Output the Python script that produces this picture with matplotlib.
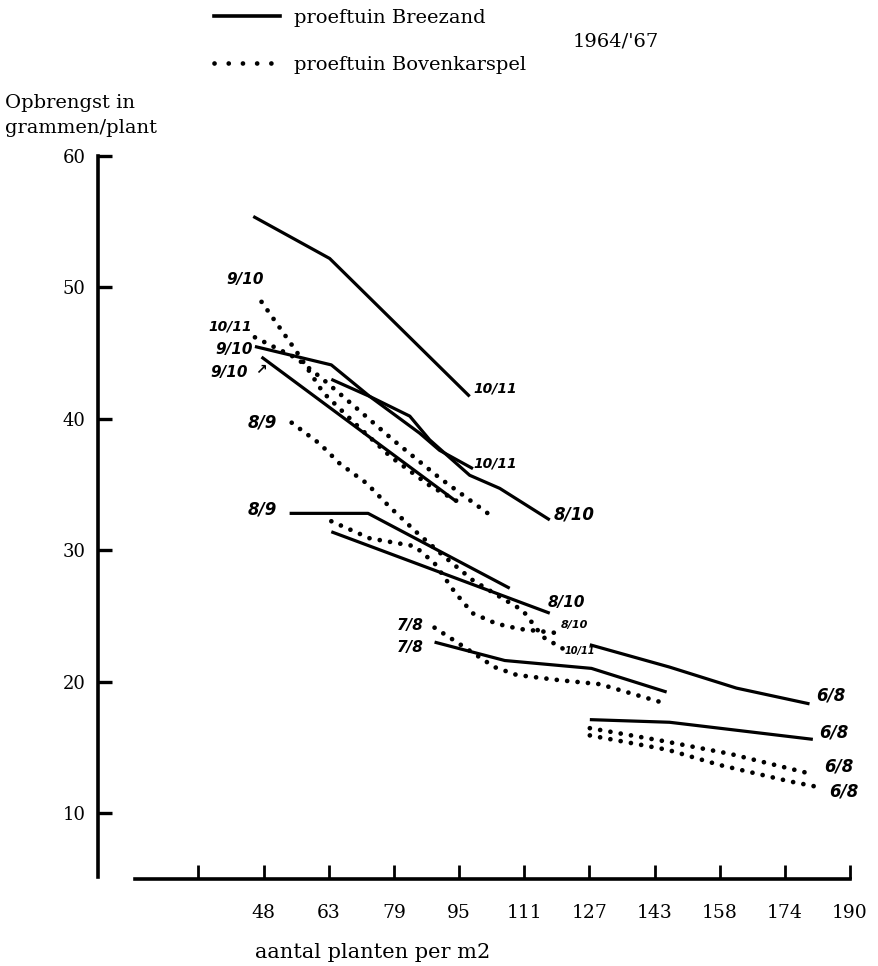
import matplotlib
matplotlib.use("Agg")
import matplotlib.pyplot as plt
from matplotlib.lines import Line2D
import numpy as np

# ---------------- data ----------------
tick_labels = ["", "48", "63", "79", "95", "111", "127", "143", "158", "174", "190"]
tick_pos = np.linspace(32.22, 190, 11)
y_ticks = [10, 20, 30, 40, 50, 60]

# proeftuin Breezand (solid)
b1_x = [45.5, 64.0, 97.9];                         b1_y = [55.4, 52.2, 41.7]
b2_x = [45.9, 64.4, 73.7, 85.8, 90.6, 98.7];       b2_y = [45.5, 44.1, 41.7, 38.9, 37.6, 36.2]
b3_x = [64.4, 73.7, 83.4, 88.2, 97.9, 105.2, 117.3]; b3_y = [43.0, 41.7, 40.2, 38.4, 35.7, 34.7, 32.3]
b4_x = [47.5, 94.7];                               b4_y = [44.7, 33.7]
b5_x = [54.3, 73.3, 107.6];                        b5_y = [32.8, 32.8, 27.1]
b6_x = [64.4, 117.3];                              b6_y = [31.4, 25.2]
b7_x = [89.4, 106.4, 127.4, 145.6];                b7_y = [23.0, 21.6, 21.0, 19.2]
b8_x = [127.0, 146.3, 162.5, 180.2];               b8_y = [22.8, 21.1, 19.5, 18.3]
b9_x = [127.0, 146.3, 181.0];                      b9_y = [17.1, 16.9, 15.6]

# proeftuin Bovenkarspel (dotted)
k1_x = [47.5, 56.0, 62.4, 70.6, 78.8, 88.3, 95.0];   k1_y = [48.9, 45.1, 42.0, 39.5, 37.1, 34.9, 33.7]
k2_x = [45.9, 56.0, 62.4, 70.9, 79.3, 90.6, 102.3];  k2_y = [46.2, 44.6, 43.0, 40.7, 38.4, 35.5, 32.8]
k3_x = [54.8, 61.6, 66.4, 72.9, 78.5, 84.9, 91.8, 98.7, 106.0, 110.8, 115.6, 120.5]
k3_y = [39.7, 38.1, 36.6, 35.1, 33.3, 31.4, 29.5, 27.7, 26.3, 25.4, 23.4, 22.5]
k4_x = [64.4, 73.7, 84.6, 89.4, 94.3, 98.6, 104.4, 110.0, 118.8]
k4_y = [32.2, 30.9, 30.3, 29.0, 26.8, 25.2, 24.4, 24.0, 23.7]
k5_x = [89.4, 96.7, 103.9, 109.3, 119.7, 129.4, 145.6]; k5_y = [24.1, 22.6, 21.1, 20.5, 20.1, 19.8, 18.3]
k6_x = [127.0, 144.3, 160.9, 180.2];               k6_y = [16.45, 15.5, 14.5, 13.0]
k7_x = [127.0, 145.9, 158.4, 175.4, 183.4];        k7_y = [15.9, 14.8, 13.65, 12.4, 11.9]

solid_series = [(b1_x, b1_y), (b2_x, b2_y), (b3_x, b3_y), (b4_x, b4_y), (b5_x, b5_y),
                (b6_x, b6_y), (b7_x, b7_y), (b8_x, b8_y), (b9_x, b9_y)]
dotted_series = [(k1_x, k1_y), (k2_x, k2_y), (k3_x, k3_y), (k4_x, k4_y),
                 (k5_x, k5_y), (k6_x, k6_y), (k7_x, k7_y)]

# handwritten labels: text, x, y, size
hand_labels = [
    ("9/10", 43.5, 50.6, 11), ("10/11", 40.0, 47.0, 10), ("9/10", 40.8, 45.3, 11),
    ("9/10", 39.6, 43.5, 11), ("↗", 47.4, 43.7, 10),
    ("8/9", 47.8, 39.7, 12), ("8/9", 47.8, 33.1, 12),
    ("7/8", 83.4, 24.3, 11), ("7/8", 83.4, 22.6, 11),
    ("10/11", 104.0, 42.3, 10), ("10/11", 104.2, 36.6, 10),
    ("8/10", 123.3, 32.7, 12), ("8/10", 121.3, 26.0, 11),
    ("8/10", 123.3, 24.3, 8), ("10/11", 124.6, 22.3, 7),
    ("6/8", 185.4, 18.9, 12), ("6/8", 186.2, 16.1, 12),
    ("6/8", 187.4, 13.5, 12), ("6/8", 188.6, 11.6, 12),
]

# ---------------- figure ----------------
W, H = 879, 966
fig = plt.figure(figsize=(W / 100, H / 100), dpi=100)
fig.patch.set_facecolor("white")
serif = "DejaVu Serif"

ax = fig.add_axes([98 / W, 1 - 879 / H, (850 - 98) / W, (879 - 156) / H])
ax.set_xlim(7.9, 190)
ax.set_ylim(4.97, 60)

LW = 2.3
dot_style = dict(color="black", lw=3.4, linestyle=(0, (0.01, 2.2)),
                 dash_capstyle="round")
for xs, ys in solid_series:
    ax.plot(xs, ys, color="black", lw=LW, solid_capstyle="butt", clip_on=False)
for xs, ys in dotted_series:
    ax.plot(xs, ys, clip_on=False, **dot_style)

for txt, x, y, s in hand_labels:
    ax.text(x, y, txt, fontsize=s, fontstyle="italic", fontweight="bold",
            family="DejaVu Sans", ha="center", va="center", clip_on=False)

# axes styling
for sp in ["top", "right"]:
    ax.spines[sp].set_visible(False)
ax.spines["left"].set_linewidth(2.6)
ax.spines["bottom"].set_linewidth(2.6)
ax.spines["left"].set_bounds(5.15, 60)
ax.spines["bottom"].set_bounds(16.8, 190)

ax.set_yticks(y_ticks)
ax.set_yticklabels([str(v) for v in y_ticks], family=serif, fontsize=13)
ax.set_xticks(tick_pos)
ax.set_xticklabels(tick_labels, family=serif, fontsize=13.5)
ax.tick_params(axis="y", direction="in", length=10, width=2.4, pad=9)
ax.tick_params(axis="x", direction="in", length=10, width=2.0, pad=18)

# axis titles
fig.text(5 / W, 1 - 103 / H, "Opbrengst in", family=serif, fontsize=14,
         ha="left", va="center")
fig.text(5 / W, 1 - 128 / H, "grammen/plant", family=serif, fontsize=14,
         ha="left", va="center")
fig.text(255 / W, 1 - 952 / H, "aantal planten per m2", family=serif, fontsize=15,
         ha="left", va="center")

# legend
leg_dot = dict(color="black", lw=3.4, linestyle=(0, (0.01, 3.0)), dash_capstyle="round")
handles = [Line2D([], [], color="black", lw=2.6),
           Line2D([], [], **leg_dot)]
fig.legend(handles, ["proeftuin Breezand", "proeftuin Bovenkarspel"],
           loc="upper left", bbox_to_anchor=(214 / W, 1 - 9 / H),
           frameon=False, prop={"family": serif, "size": 14},
           handlelength=3.4, handletextpad=0.7, labelspacing=1.5,
           borderpad=0, borderaxespad=0)
fig.text(573 / W, 1 - 42 / H, "1964/'67", family=serif, fontsize=14,
         ha="left", va="center")

fig.savefig("out.png", dpi=100, facecolor="white")
